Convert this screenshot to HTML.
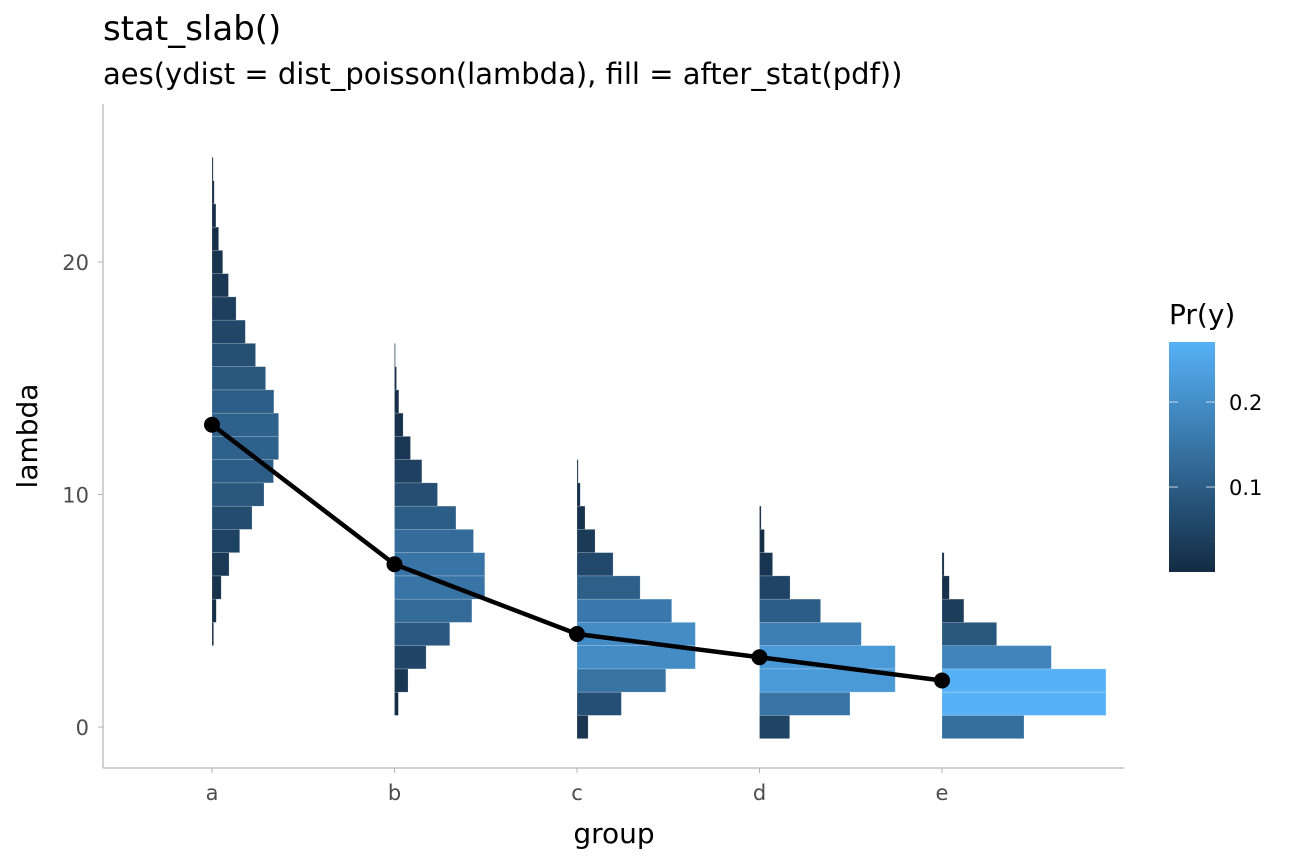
<!DOCTYPE html>
<html><head><meta charset="utf-8"><style>
body{margin:0;background:#fff;}
svg{display:block;font-family:"DejaVu Sans","Liberation Sans",sans-serif;}
</style></head><body>
<svg id="chart" width="1296" height="864" viewBox="0 0 1296 864">
<text x="103" y="40" font-size="34" fill="#000">stat_slab()</text>
<text x="103" y="84" font-size="29" fill="#000">aes(ydist = dist_poisson(lambda), fill = after_stat(pdf))</text>
<g id="plot"></g>
<line x1="103" y1="104" x2="103" y2="768" stroke="#b3b3b3" stroke-width="1.2"/>
<line x1="103" y1="768" x2="1124" y2="768" stroke="#b3b3b3" stroke-width="1.2"/>
<g id="yticks"></g>
<g id="xticks"></g>
<text x="614" y="843" font-size="28" text-anchor="middle">group</text>
<text transform="translate(37,436) rotate(-90)" font-size="28" text-anchor="middle">lambda</text>
<g id="legend">
<text x="1169" y="324" font-size="28">Pr(y)</text>
<defs><linearGradient id="grad" x1="0" y1="1" x2="0" y2="0"><stop offset="0" stop-color="#132B43"/><stop offset="1" stop-color="#56B1F7"/></linearGradient></defs>
<rect x="1169" y="342" width="46" height="230" fill="url(#grad)"/>
</g>
</svg>
<script>
const groups = ['a','b','c','d','e'];
const lambdas = [13, 7, 4, 3, 2];
const yTicks = [0, 10, 20];
const legendTicks = [0.1, 0.2];
const maxK = 25;

const NS='http://www.w3.org/2000/svg';
const xPos = i => 212 + i*182.5;
const yPos = v => 727 - v*23.25;
const pdfMax = 0.2707;
const wScale = 164/pdfMax;
function pois(k,l){let p=Math.exp(-l);for(let i=1;i<=k;i++)p*=l/i;return p;}
function col(t){t=Math.max(0,Math.min(1,t));const a=[0x13,0x2B,0x43],b=[0x56,0xB1,0xF7];return 'rgb('+a.map((v,i)=>Math.round(v+(b[i]-v)*t)).join(',')+')';}
function mk(tag,attrs,parent){const e=document.createElementNS(NS,tag);for(const k in attrs)e.setAttribute(k,attrs[k]);parent.appendChild(e);return e;}
const plot=document.getElementById('plot');
groups.forEach((g,i)=>{
  for(let k=0;k<=maxK;k++){
    const p=pois(k,lambdas[i]);
    const w=p*wScale; if(w<0.8)continue;
    const r=mk('rect',{x:xPos(i),y:yPos(k+0.5),width:w,height:23.25,fill:col(p/pdfMax),stroke:'rgba(255,255,255,0.3)','stroke-width':0.6},plot);
    
    
  }
});
const pts=lambdas.map((l,i)=>xPos(i)+','+yPos(l)).join(' ');
const pl=mk('polyline',{points:pts,fill:'none',stroke:'#000','stroke-width':4.5,'stroke-linejoin':'round'},plot);


lambdas.forEach((l,i)=>{
  const c=mk('circle',{cx:xPos(i),cy:yPos(l),r:8,fill:'#000'},plot);
  
  
});
const yt=document.getElementById('yticks');
yTicks.forEach(v=>{
  const l=mk('line',{x1:98,x2:103,y1:yPos(v),y2:yPos(v),stroke:'#b3b3b3'},yt);
  
  
  const t=mk('text',{x:89,y:yPos(v)+8,'font-size':21,fill:'#4d4d4d','text-anchor':'end'},yt);
  t.textContent=v;
  
  
});
const xt=document.getElementById('xticks');
groups.forEach((g,i)=>{
  const l=mk('line',{x1:xPos(i),x2:xPos(i),y1:768,y2:773,stroke:'#b3b3b3'},xt);
  
  
  const t=mk('text',{x:xPos(i),y:800,'font-size':21,fill:'#4d4d4d','text-anchor':'middle'},xt);
  t.textContent=g;
  
  
});
const lg=document.getElementById('legend');
legendTicks.forEach(v=>{
  const y=572-v/pdfMax*230;
  [[1169,1178],[1206,1215]].forEach(([a,b])=>{
    const l=mk('line',{x1:a,x2:b,y1:y,y2:y,stroke:'rgba(255,255,255,0.6)','stroke-width':1.2},lg);
    
    
  });
  const t=mk('text',{x:1229,y:y+8,'font-size':21,fill:'#000'},lg);
  t.textContent=v;
  
  
});
</script>
</body></html>
